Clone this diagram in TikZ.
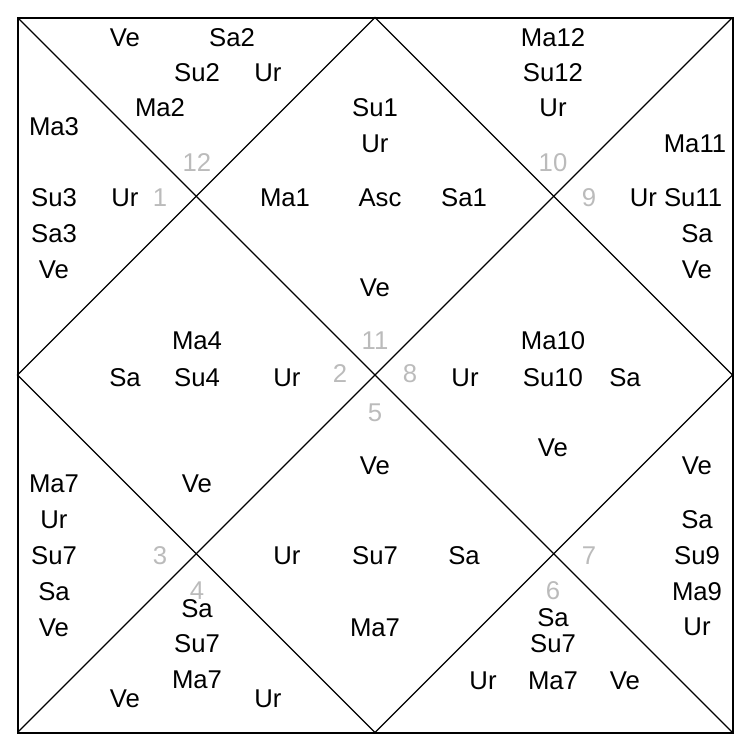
\documentclass[tikz,border=0pt]{standalone}
\usepackage{fontspec}
\setmainfont{Liberation Sans}
\definecolor{numgray}{HTML}{BBBBBB}
\begin{document}
\begin{tikzpicture}[x=1pt,y=-1pt,
  planet/.style={inner sep=0pt,text height=18.4pt,text depth=0pt,anchor=center,font=\fontsize{25.7}{30}\selectfont},
  hnum/.style={planet,text=numgray},
  frame/.style={line width=2pt},
  chartline/.style={line width=1.3pt}]
\useasboundingbox (0,0) rectangle (753,753);
\coordinate (TL) at (17.5,17.5);
\coordinate (TR) at (732.5,17.5);
\coordinate (BR) at (732.5,732.5);
\coordinate (BL) at (17.5,732.5);
\coordinate (T) at (375,17.5);
\coordinate (R) at (732.5,375);
\coordinate (B) at (375,732.5);
\coordinate (L) at (17.5,375);
\draw[chartline] (TL) -- (BR);
\draw[chartline] (TR) -- (BL);
\draw[chartline] (T) -- (R) -- (B) -- (L) -- cycle;
\draw[frame] (TL) rectangle (BR);
% house numbers
\node[hnum] (n12) at (197,162) {12};
\node[hnum] (n1) at (160,197) {1};
\node[hnum] (n10) at (553,162) {10};
\node[hnum] (n9) at (589,197) {9};
\node[hnum] (n11) at (375,340) {11};
\node[hnum] (n2) at (340,373) {2};
\node[hnum] (n8) at (410,373) {8};
\node[hnum] (n5) at (375,412) {5};
\node[hnum] (n3) at (160,555) {3};
\node[hnum] (n4) at (197,590) {4};
\node[hnum] (n6) at (553,590) {6};
\node[hnum] (n7) at (589,555) {7};
% top-left triangle
\node[planet] (a1) at (125,37) {Ve};
\node[planet] (a2) at (232,37) {Sa2};
\node[planet] (a3) at (197,72) {Su2};
\node[planet] (a4) at (268,72) {Ur};
\node[planet] (a5) at (160,107) {Ma2};
% left triangle
\node[planet] (b1) at (54,126) {Ma3};
\node[planet] (b2) at (54,197) {Su3};
\node[planet] (b3) at (125,197) {Ur};
\node[planet] (b4) at (54,233) {Sa3};
\node[planet] (b5) at (54,269) {Ve};
% top diamond
\node[planet] (c1) at (375,107) {Su1};
\node[planet] (c2) at (375,143) {Ur};
\node[planet] (c3) at (285,197) {Ma1};
\node[planet] (c4) at (380,197) {Asc};
\node[planet] (c5) at (464,197) {Sa1};
\node[planet] (c6) at (375,287) {Ve};
% top-right triangle
\node[planet] (d1) at (553,37) {Ma12};
\node[planet] (d2) at (553,72) {Su12};
\node[planet] (d3) at (553,107) {Ur};
% right triangle
\node[planet] (e1) at (695,143) {Ma11};
\node[planet] (e2) at (676,197) {Ur Su11};
\node[planet] (e3) at (697,233) {Sa};
\node[planet] (e4) at (697,269) {Ve};
% left diamond
\node[planet] (f1) at (197,340) {Ma4};
\node[planet] (f2) at (125,377) {Sa};
\node[planet] (f3) at (197,377) {Su4};
\node[planet] (f4) at (287,377) {Ur};
\node[planet] (f5) at (197,483) {Ve};
% right diamond
\node[planet] (g1) at (553,340) {Ma10};
\node[planet] (g2) at (465,377) {Ur};
\node[planet] (g3) at (553,377) {Su10};
\node[planet] (g4) at (625,377) {Sa};
\node[planet] (g5) at (553,447) {Ve};
% bottom diamond
\node[planet] (h1) at (375,465) {Ve};
\node[planet] (h2) at (287,555) {Ur};
\node[planet] (h3) at (375,555) {Su7};
\node[planet] (h4) at (464,555) {Sa};
\node[planet] (h5) at (375,627) {Ma7};
% lower-left triangle
\node[planet] (i1) at (54,483) {Ma7};
\node[planet] (i2) at (54,519) {Ur};
\node[planet] (i3) at (54,555) {Su7};
\node[planet] (i4) at (54,591) {Sa};
\node[planet] (i5) at (54,627) {Ve};
% bottom-left triangle
\node[planet] (j1) at (197,608) {Sa};
\node[planet] (j2) at (197,643) {Su7};
\node[planet] (j3) at (197,679) {Ma7};
\node[planet] (j4) at (125,698) {Ve};
\node[planet] (j5) at (268,698) {Ur};
% bottom-right triangle
\node[planet] (k1) at (553,617) {Sa};
\node[planet] (k2) at (553,643) {Su7};
\node[planet] (k3) at (553,680) {Ma7};
\node[planet] (k4) at (483,680) {Ur};
\node[planet] (k5) at (625,680) {Ve};
% lower-right triangle
\node[planet] (l1) at (697,465) {Ve};
\node[planet] (l2) at (697,519) {Sa};
\node[planet] (l3) at (697,555) {Su9};
\node[planet] (l4) at (697,591) {Ma9};
\node[planet] (l5) at (697,626) {Ur};
\end{tikzpicture}
\end{document}
